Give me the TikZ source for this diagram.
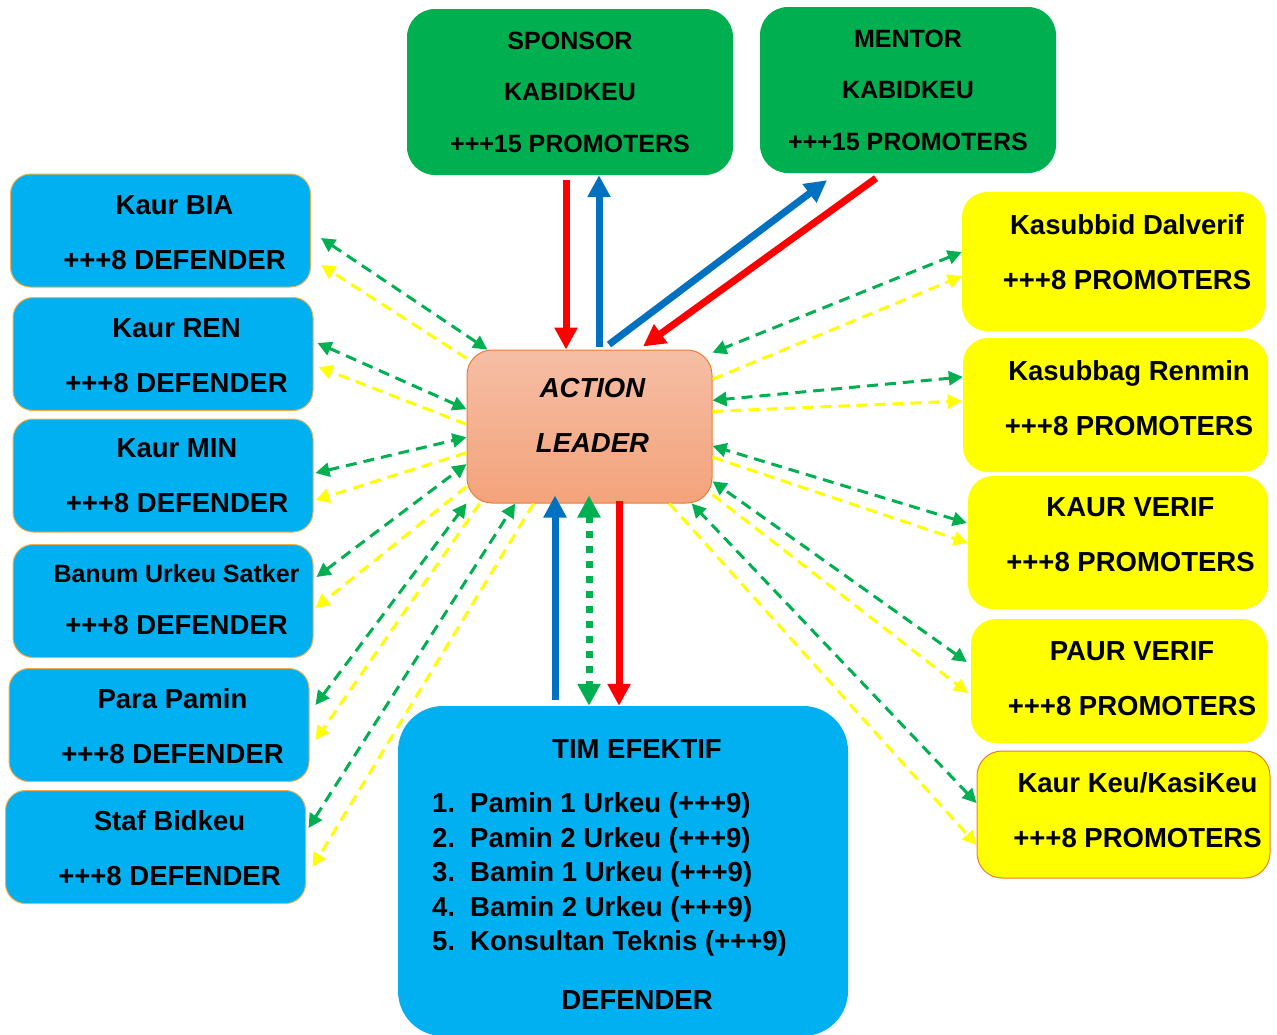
\documentclass[tikz,border=0pt]{standalone}
\usepackage{fontspec}
\setmainfont{Liberation Sans}
\usetikzlibrary{arrows.meta}

\definecolor{boxblue}{HTML}{00B0F0}
\definecolor{boxgreen}{HTML}{00B050}
\definecolor{boxyellow}{HTML}{FFFF00}
\definecolor{lineblue}{HTML}{0070C0}
\definecolor{edgeorange}{HTML}{ED7D31}
\definecolor{edgegold}{HTML}{F2B04A}
\definecolor{leadtop}{HTML}{F5BEA5}
\definecolor{leadbot}{HTML}{F4A37B}

\begin{document}
\begin{tikzpicture}[x=1pt,y=-1pt,
    lbox/.style={rectangle,rounded corners=20pt,fill=boxblue,draw=edgegold,line width=1pt,
        minimum width=300pt,minimum height=113pt,inner sep=0pt},
    rbox/.style={rectangle,rounded corners=25pt,fill=boxyellow,minimum width=300pt,
        minimum height=133pt,inner sep=0pt},
    gbox/.style={rectangle,rounded corners=28pt,fill=boxgreen,minimum height=166pt,inner sep=0pt},
    txt/.style={align=center,inner sep=0pt,font=\fontsize{27.5}{55}\selectfont\bfseries},
    gtxt/.style={align=center,inner sep=0pt,font=\fontsize{25}{51.5}\selectfont\bfseries},
    fat/.style={line width=7pt,-{Triangle[width=22pt,length=22pt]}},
    gdot/.style={boxgreen,line width=7pt,dash pattern=on 7pt off 8pt,
        {Triangle[width=22pt,length=22pt]}-{Triangle[width=22pt,length=22pt]}},
    gdash/.style={boxgreen,line width=3pt,dash pattern=on 11pt off 7pt,
        {Triangle[width=14pt,length=14pt]}-{Triangle[width=14pt,length=14pt]}},
    ydash/.style={boxyellow,line width=3pt,dash pattern=on 11pt off 7pt,
        -{Triangle[width=14pt,length=14pt]}}]
    \useasboundingbox (0,0) rectangle (1277,1034);

    % Top boxes
    \node[gbox,minimum width=326pt] (sp) at (570,92) {};
    \node[gtxt] (spt) at (sp.center) {SPONSOR\\KABIDKEU\\+++15 PROMOTERS};
    \node[gbox,minimum width=296pt] (mt) at (908,90) {};
    \node[gtxt] (mtt) at (mt.center) {MENTOR\\KABIDKEU\\+++15 PROMOTERS};

    % Action leader
    \node[rectangle,rounded corners=25pt,top color=leadtop,bottom color=leadbot,draw=edgeorange,
        line width=1pt,minimum width=245pt,minimum height=153pt,inner sep=0pt] (al) at (589.5,426.5) {};
    \node[txt,font=\fontsize{27.5}{55}\selectfont\bfseries\itshape] (alt) at ([xshift=3pt,yshift=11pt]al.center)
        {ACTION\\LEADER};

    % Left boxes
    \node[lbox] (bia) at (160.5,230.5) {};
    \node[txt] (biat) at ([xshift=14pt,yshift=-2pt]bia.center) {Kaur BIA\\+++8 DEFENDER};
    \node[lbox] (ren) at (163,354) {};
    \node[txt] (rent) at ([xshift=13.5pt,yshift=-2pt]ren.center) {Kaur REN\\+++8 DEFENDER};
    \node[lbox] (min) at (163,475.5) {};
    \node[txt] (mint) at ([xshift=14pt]min.center) {Kaur MIN\\+++8 DEFENDER};
    \node[lbox] (ban) at (163,601) {};
    \node[txt,font=\fontsize{25}{52}\selectfont\bfseries] (bant) at ([xshift=13.5pt,yshift=1pt]ban.center)
        {Banum Urkeu Satker\\{\fontsize{27.5}{52}\selectfont +++8 DEFENDER}};
    \node[lbox] (pam) at (159,725) {};
    \node[txt] (pamt) at ([xshift=13.5pt,yshift=-1.5pt]pam.center) {Para Pamin\\+++8 DEFENDER};
    \node[lbox] (stf) at (155.5,847) {};
    \node[txt] (stft) at ([xshift=14pt,yshift=-1pt]stf.center) {Staf Bidkeu\\+++8 DEFENDER};

    % Right boxes
    \node[rbox,minimum width=303pt,minimum height=139pt] (dal) at (1113.5,261.5) {};
    \node[txt] (dalt) at ([xshift=13.5pt,yshift=9pt]dal.center) {Kasubbid Dalverif\\+++8 PROMOTERS};
    \node[rbox,minimum width=305pt,minimum height=134pt] (rmn) at (1115.5,405) {};
    \node[txt] (rmnt) at ([xshift=13.5pt,yshift=6.5pt]rmn.center) {Kasubbag Renmin\\+++8 PROMOTERS};
    \node[rbox] (kv) at (1118,542.5) {};
    \node[txt] (kvt) at ([xshift=12.5pt,yshift=7.5pt]kv.center) {KAUR VERIF\\+++8 PROMOTERS};
    \node[rbox,minimum width=296pt,minimum height=124pt] (pv) at (1119,681) {};
    \node[txt] (pvt) at ([xshift=13pt,yshift=2pt]pv.center) {PAUR VERIF\\+++8 PROMOTERS};
    \node[rbox,draw=edgeorange,line width=1pt,minimum width=293pt,minimum height=127pt] (kk) at (1123.5,814.5) {};
    \node[txt] (kkt) at ([xshift=14pt,yshift=4.5pt]kk.center) {Kaur Keu/KasiKeu\\+++8 PROMOTERS};

    % Tim efektif
    \node[rectangle,rounded corners=45pt,fill=boxblue,minimum width=450pt,minimum height=330pt,
        inner sep=0pt] (te) at (623,871) {};
    \node[txt] (tet) at (637,749) {TIM EFEKTIF};
    \node[txt,align=left,anchor=west,font=\fontsize{27.5}{34.5}\selectfont\bfseries] (tel) at (432,874.5)
        {\makebox[38pt][l]{1.}Pamin 1 Urkeu (+++9)\\
         \makebox[38pt][l]{2.}Pamin 2 Urkeu (+++9)\\
         \makebox[38pt][l]{3.}Bamin 1 Urkeu (+++9)\\
         \makebox[38pt][l]{4.}Bamin 2 Urkeu (+++9)\\
         \makebox[38pt][l]{5.}Konsultan Teknis (+++9)};
    \node[txt] (ted) at (637,1000) {DEFENDER};

    % Thick arrows to and from the top
    \draw[fat,red] ([xshift=-4pt,yshift=-5pt]sp.south) -- ([xshift=-23.5pt]al.north);
    \draw[fat,lineblue] ([xshift=9.5pt,yshift=3pt]al.north) -- ([xshift=29pt]sp.south);
    \draw[fat,lineblue] ([xshift=19.5pt,yshift=5pt]al.north) -- ([xshift=-81pt,yshift=-7pt]mt.south);
    \draw[fat,red] ([xshift=-32pt,yshift=-5pt]mt.south) -- ([xshift=53.5pt,yshift=3pt]al.north);

    % Thick arrows to and from the bottom
    \draw[fat,lineblue] ([xshift=-68pt,yshift=6pt]te.north) -- ([xshift=-34.5pt,yshift=8pt]al.south);
    \draw[gdot] ([xshift=-0.5pt,yshift=8pt]al.south) -- ([xshift=-34pt]te.north);
    \draw[fat,red] ([xshift=29.5pt,yshift=3pt]al.south) -- ([xshift=-4pt]te.north);

    % Dashed links, left side
    \foreach \bx/\ga/\gx/\gy/\ya/\yx/\yy in {bia/143/10/-7.5/151/10/-34.5,
        ren/172/4/11/179/5/-13, min/185/2/2.5/192/2/-24.5, ban/197/3/24/206/2/-7,
        pam/212/6/20/215/6/-15, stf/226/2.5/19/234/6.5/-20} {
        \draw[ydash] (al.\ya) -- ([xshift=\yx pt,yshift=\yy pt]\bx.east);
        \draw[gdash] ([xshift=\gx pt,yshift=\gy pt]\bx.east) -- (al.\ga);
    }

    % Dashed links, right side
    \foreach \bx/\ga/\gx/\gy/\ya/\yx/\yy in {dal/31/0/9.5/21/0/-14.5,
        rmn/12/0/28/7/-1/4, kv/351/-1/19.5/346/0/-0.5, pv/336/-4/19/331/-3/-12,
        kk/323/0/11.5/316/0/-30.5} {
        \draw[ydash] (al.\ya) -- ([xshift=\yx pt,yshift=\yy pt]\bx.west);
        \draw[gdash] ([xshift=\gx pt,yshift=\gy pt]\bx.west) -- (al.\ga);
    }
\end{tikzpicture}
\end{document}
